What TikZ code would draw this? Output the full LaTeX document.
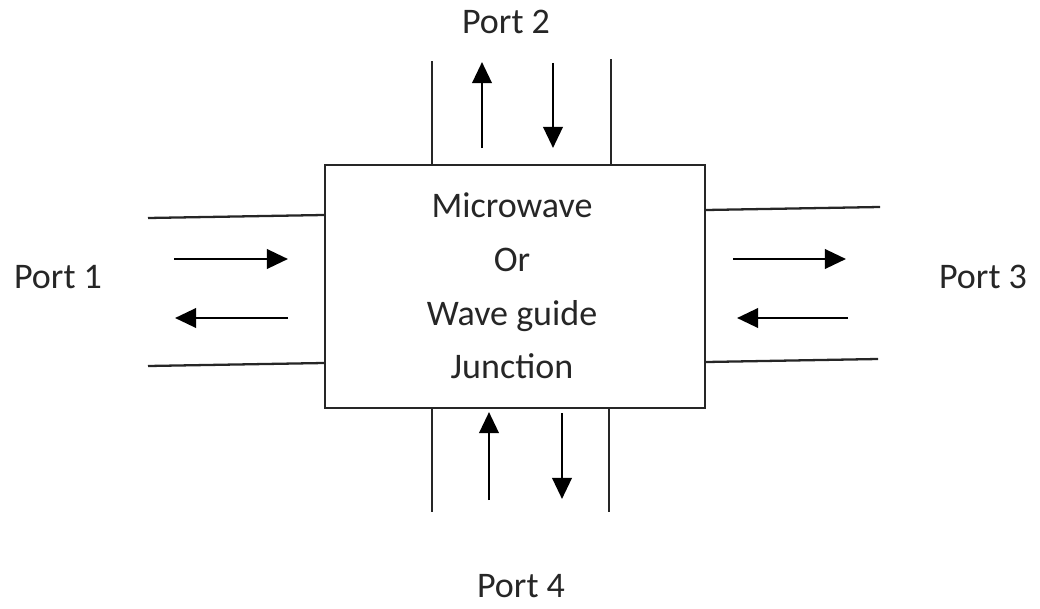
\documentclass[tikz,border=0pt]{standalone}
\usepackage{fontspec}
\setmainfont{Carlito}
\usepackage{tikz}
\usetikzlibrary{arrows.meta,positioning}

\begin{document}
\begin{tikzpicture}[x=0.02cm, y=-0.02cm,
    % ---- styles ----
    W/.style={line width=1.3pt, color=black!85},
    A/.style={-{Triangle[length=12pt, width=11pt]}, line width=1.6pt, color=black},
    P/.style={font=\fontsize{20.5}{24}\selectfont, text=black!85},
    J/.style={draw=black!85, line width=1.3pt, minimum width=7.6cm, minimum height=4.86cm,
              align=center, inner sep=0pt,
              font=\fontsize{20.5}{30.6}\selectfont, text=black!85},
]
\useasboundingbox (0,0) rectangle (1040,608);

% ===== Junction box =====
\node[J] (junc) at (515,286.5) {};
\node[J, draw=none, minimum width=0pt, minimum height=0pt] (jtext) at (512,286) {Microwave\\Or\\Wave guide\\Junction};

% ===== Port labels =====
\node[P] (p1) at (58,277)  {Port 1};
\node[P] (p2) at (506,22)  {Port 2};
\node[P] (p3) at (983,277) {Port 3};
\node[P] (p4) at (521,586) {Port 4};

% ===== Guide walls =====
\draw[W] (junc.north -| 432,0) -- (432,61);
\draw[W] (junc.north -| 611,0) -- (611,59);
\draw[W] (junc.south -| 432,0) -- (432,512);
\draw[W] (junc.south -| 609,0) -- (609,512);
\draw[W] (junc.west |- 0,215) -- (148,218);
\draw[W] (junc.west |- 0,363) -- (148,366);
\draw[W] (junc.east |- 0,210) -- (880,207);
\draw[W] (junc.east |- 0,362) -- (878,359);

% ===== Wave directions =====
\foreach \a/\b in {{482,148}/{482,62}, {553,63}/{553,148},
                   {489,500}/{489,412}, {562,413}/{562,499},
                   {174,259}/{288,259}, {288,318}/{175,318},
                   {733,259}/{846,259}, {848,318}/{737,318}}
    \draw[A] (\a) -- (\b);

\end{tikzpicture}
\end{document}
